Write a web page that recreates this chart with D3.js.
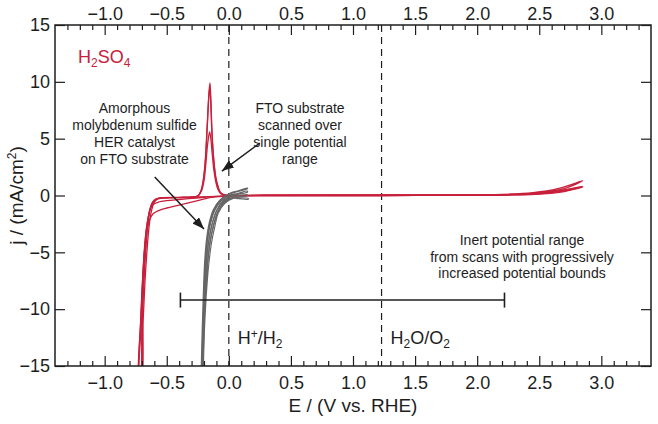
<!DOCTYPE html>
<html><head><meta charset="utf-8">
<script src="https://cdn.jsdelivr.net/npm/d3@7"></script>
<style>
body{margin:0;background:#fff;}
svg{display:block;font-family:"Liberation Sans",Arial,sans-serif;}
</style></head>
<body><svg id="c" width="658" height="424"></svg>
<script>
// ---- data ----
const xMajor = [-1.0,-0.5,0.0,0.5,1.0,1.5,2.0,2.5,3.0];
const xMinor = [-1.3,-1.2,-1.1,-0.9,-0.8,-0.7,-0.6,-0.4,-0.3,-0.2,-0.1,0.1,0.2,0.3,0.4,0.6,0.7,0.8,0.9,1.1,1.2,1.3,1.4,1.6,1.7,1.8,1.9,2.1,2.2,2.3,2.4,2.6,2.7,2.8,2.9,3.1,3.2,3.3];
const yMajor = [-15,-10,-5,0,5,10,15];
const refPotentials = [0.0, 1.23];
const inertRange = [-0.39, 2.22];
const inertLevel = -9.2;

// FTO substrate, wide potential range (red)
const red1 = [[0.05,-0.02],[-0.05,-0.08],[-0.13,-0.15],[-0.25,-0.45],[-0.4,-0.85],[-0.5,-1.1],[-0.56,-1.3],[-0.61,-1.6],[-0.64,-2.2],[-0.66,-3.2],[-0.68,-5],[-0.695,-7.5],[-0.71,-11],[-0.725,-16.5],
 [-0.715,-16.5],[-0.70,-11],[-0.685,-7],[-0.67,-4.5],[-0.655,-2.5],[-0.64,-1.4],[-0.62,-0.7],[-0.59,-0.35],[-0.55,-0.22],[-0.4,-0.18],[-0.3,-0.15],[-0.25,-0.05],[-0.225,0.4],[-0.205,1.4],[-0.19,3],[-0.175,6],[-0.16,9],[-0.152,9.9],[-0.145,8.5],[-0.135,5.5],[-0.12,3],[-0.105,1.6],[-0.09,0.9],[-0.07,0.3],[-0.04,0.08],[0.3,0.03],[1.0,0.05],[1.8,0.05],[2.2,0.1],[2.45,0.25],[2.65,0.6],[2.85,1.3],
 [2.7,0.6],[2.5,0.25],[2.3,0.1],[2.0,0.03],[1.2,0.0],[0.5,-0.01],[0.05,-0.02]];
const red2 = [[0.05,-0.02],[-0.05,-0.05],[-0.15,-0.12],[-0.26,-0.22],[-0.4,-0.35],[-0.5,-0.45],[-0.56,-0.55],[-0.61,-0.8],[-0.635,-1.3],[-0.655,-2.3],[-0.675,-4],[-0.69,-6.5],[-0.705,-10],[-0.72,-16.5],
 [-0.71,-16.5],[-0.695,-10.5],[-0.68,-6.8],[-0.665,-4.2],[-0.65,-2.4],[-0.635,-1.3],[-0.615,-0.6],[-0.585,-0.3],[-0.55,-0.2],[-0.4,-0.16],[-0.3,-0.13],[-0.25,-0.04],[-0.222,0.35],[-0.2,1.3],[-0.185,2.8],[-0.17,4.6],[-0.155,5.6],[-0.145,5.0],[-0.135,3.8],[-0.12,2.2],[-0.105,1.2],[-0.09,0.6],[-0.065,0.15],[-0.03,0.03],[0.3,0.02],[1.0,0.04],[1.8,0.05],[2.2,0.08],[2.45,0.18],[2.65,0.4],[2.85,0.8],
 [2.7,0.4],[2.5,0.15],[2.3,0.06],[2.0,0.02],[1.2,0.0],[0.5,-0.01],[0.05,-0.02]];
const red3 = [[0.05,-0.02],[-0.1,-0.08],[-0.3,-0.15],[-0.5,-0.22],[-0.57,-0.3],[-0.6,-0.5],[-0.625,-0.9],[-0.645,-1.7],[-0.665,-3],[-0.68,-5],[-0.695,-8],[-0.71,-12],[-0.72,-16.5],
 [-0.705,-16.5],[-0.69,-11],[-0.675,-7.5],[-0.66,-5],[-0.645,-3],[-0.628,-1.6],[-0.605,-0.7],[-0.58,-0.35],[-0.55,-0.22],[-0.4,-0.18],[-0.3,-0.14],[-0.25,-0.04],[-0.224,0.4],[-0.203,1.5],[-0.188,3.2],[-0.173,6.2],[-0.16,8.9],[-0.153,9.5],[-0.146,8.3],[-0.136,5.4],[-0.121,3],[-0.106,1.6],[-0.091,0.9],[-0.07,0.3],[-0.04,0.06],[0.3,0.02],[1.0,0.03],[1.8,0.04],[2.2,0.07],[2.45,0.15],[2.65,0.38],[2.85,0.75],
 [2.7,0.35],[2.5,0.12],[2.3,0.05],[2.0,0.02],[1.2,0.0],[0.5,-0.01],[0.05,-0.02]];

// Amorphous MoSx HER catalyst on FTO (gray)
const gray1 = [[-0.225,-16.5],[-0.215,-12],[-0.205,-8.5],[-0.194,-5.7],[-0.18,-3.9],[-0.159,-2.45],[-0.126,-1.27],[-0.073,-0.4],[0.008,0.19],[0.07,0.4],[0.15,0.66],
 [0.15,0.6],[0.07,0.33],[0.0,0.1],[-0.065,-0.45],[-0.115,-1.25],[-0.15,-2.45],[-0.173,-3.9],[-0.19,-5.7],[-0.202,-8.5],[-0.212,-12],[-0.222,-16.5]];
const gray2 = [[-0.22,-16.5],[-0.21,-12],[-0.2,-8.5],[-0.188,-5.7],[-0.172,-3.9],[-0.148,-2.5],[-0.113,-1.3],[-0.06,-0.45],[0.01,0.05],[0.07,0.18],[0.15,0.38],
 [0.15,0.3],[0.07,0.1],[0.015,-0.05],[-0.05,-0.5],[-0.1,-1.35],[-0.135,-2.55],[-0.162,-4],[-0.18,-5.8],[-0.195,-8.6],[-0.206,-12],[-0.217,-16.5]];
const gray3 = [[-0.215,-16.5],[-0.205,-12],[-0.193,-8.6],[-0.18,-5.8],[-0.162,-4],[-0.137,-2.6],[-0.1,-1.4],[-0.048,-0.55],[0.02,-0.1],[0.08,0.0],[0.15,0.08],
 [0.15,0.0],[0.08,-0.12],[0.025,-0.2],[-0.04,-0.6],[-0.09,-1.5],[-0.122,-2.65],[-0.15,-4.1],[-0.17,-5.9],[-0.188,-8.7],[-0.2,-12],[-0.212,-16.5]];
const gray4 = [[-0.21,-16.5],[-0.2,-12],[-0.187,-8.8],[-0.172,-6],[-0.152,-4.1],[-0.126,-2.7],[-0.093,-1.55],[-0.04,-0.65],[0.03,-0.22],[0.09,-0.2],[0.156,-0.25],
 [0.156,-0.33],[0.08,-0.28],[0.035,-0.25],[-0.032,-0.69],[-0.086,-1.57],[-0.113,-2.74],[-0.14,-4.2],[-0.163,-6.2],[-0.183,-9],[-0.197,-12],[-0.208,-16.5]];

const redTraces = [red1, red2, red3];
const grayTraces = [gray1, gray2, gray3, gray4];

// ---- layout ----
const W = 658, H = 424;
const m = {l:55, r:7, t:25, b:58};
const svg = d3.select("#c");
const x = d3.scaleLinear([-1.4, 3.4], [m.l, W - m.r]);
const y = d3.scaleLinear([-15, 15], [H - m.b, m.t]);
const RED = "#c8203c", GRAY = "#666666", INK = "#1e1e1e";

const defs = svg.append("defs");
defs.append("clipPath").attr("id","clip")
  .append("rect").attr("x",m.l).attr("y",m.t).attr("width",W-m.l-m.r).attr("height",H-m.t-m.b);
defs.append("marker").attr("id","ah").attr("markerUnits","userSpaceOnUse")
  .attr("viewBox","0 0 12 9").attr("refX",12).attr("refY",4.5)
  .attr("markerWidth",12).attr("markerHeight",9).attr("orient","auto")
  .append("path").attr("d","M0,0 L12,4.5 L0,9 Z").attr("fill",INK);

// reference dashed lines
svg.append("g").selectAll("line").data(refPotentials).join("line")
  .attr("x1",d=>x(d)).attr("x2",d=>x(d)).attr("y1",y(15)).attr("y2",y(-15))
  .attr("stroke",INK).attr("stroke-width",1.2).attr("stroke-dasharray","7,5");

// curves
const line = d3.line().x(d=>x(d[0])).y(d=>y(d[1])).curve(d3.curveCatmullRom.alpha(0.5));
const plot = svg.append("g").attr("clip-path","url(#clip)");
plot.selectAll(".red").data(redTraces).join("path").attr("class","red")
  .attr("d",line).attr("fill","none").attr("stroke",RED).attr("stroke-width",1.3);
plot.selectAll(".gray").data(grayTraces).join("path").attr("class","gray")
  .attr("d",line).attr("fill","none").attr("stroke",GRAY).attr("stroke-width",1.15);

// inert range bar
const bar = svg.append("g").attr("stroke",INK).attr("stroke-width",1.6);
bar.append("line").attr("x1",x(inertRange[0])).attr("x2",x(inertRange[1])).attr("y1",y(inertLevel)).attr("y2",y(inertLevel));
bar.selectAll(".cap").data(inertRange).join("line").attr("class","cap")
  .attr("x1",d=>x(d)).attr("x2",d=>x(d)).attr("y1",y(inertLevel)-7.5).attr("y2",y(inertLevel)+7.5);

// axes
function style(g){ g.select(".domain").remove(); g.selectAll("line").attr("stroke",INK).attr("stroke-width",1.2);
  g.selectAll("text").attr("fill",INK).style("font-size","18px"); }
svg.append("g").attr("transform",`translate(0,${y(-15)})`)
  .call(d3.axisBottom(x).tickValues(xMajor).tickSize(-10).tickPadding(10).tickFormat(d3.format(".1f"))).call(style);
svg.append("g").attr("transform",`translate(0,${y(-15)})`)
  .call(d3.axisBottom(x).tickValues(xMinor).tickSize(-5).tickFormat("")).call(style);
svg.append("g").attr("transform",`translate(0,${y(15)})`)
  .call(d3.axisTop(x).tickValues(xMajor).tickSize(-10).tickPadding(5).tickFormat(d3.format(".1f"))).call(style);
svg.append("g").attr("transform",`translate(0,${y(15)})`)
  .call(d3.axisTop(x).tickValues(xMinor).tickSize(-5).tickFormat("")).call(style);
svg.append("g").attr("transform",`translate(${x(-1.4)},0)`)
  .call(d3.axisLeft(y).tickValues(yMajor).tickSize(-10).tickPadding(5).tickFormat(d3.format("d"))).call(style);
svg.append("g").attr("transform",`translate(${x(3.4)},0)`)
  .call(d3.axisRight(y).tickValues(yMajor).tickSize(-10).tickFormat("")).call(style);
svg.append("rect").attr("x",m.l).attr("y",m.t).attr("width",W-m.l-m.r).attr("height",H-m.t-m.b)
  .attr("fill","none").attr("stroke",INK).attr("stroke-width",1.5);

// axis titles
svg.append("text").attr("x",(m.l+W-m.r)/2).attr("y",412).attr("text-anchor","middle")
  .style("font-size","19px").attr("fill",INK).text("E / (V vs. RHE)");
const yt = svg.append("text").attr("transform",`translate(23,${(m.t+H-m.b)/2}) rotate(-90)`)
  .attr("text-anchor","middle").style("font-size","19px").attr("fill",INK);
yt.append("tspan").text("j / (mA/cm");
yt.append("tspan").attr("dy",-7).style("font-size","12px").text("2");
yt.append("tspan").attr("dy",7).text(")");

// electrolyte label
const hs = svg.append("text").attr("x",78).attr("y",63).attr("fill",RED).style("font-size","18px");
hs.append("tspan").text("H");
hs.append("tspan").attr("dy",4).style("font-size","12px").text("2");
hs.append("tspan").attr("dy",-4).text("SO");
hs.append("tspan").attr("dy",4).style("font-size","12px").text("4");

// redox labels
const h1 = svg.append("text").attr("x",x(0)+9).attr("y",344).attr("fill",INK).style("font-size","18px");
h1.append("tspan").text("H");
h1.append("tspan").attr("dy",-6).style("font-size","12px").text("+");
h1.append("tspan").attr("dy",6).text("/H");
h1.append("tspan").attr("dy",4).style("font-size","12px").text("2");
const h2 = svg.append("text").attr("x",x(1.23)+9).attr("y",344).attr("fill",INK).style("font-size","18px");
h2.append("tspan").text("H");
h2.append("tspan").attr("dy",4).style("font-size","12px").text("2");
h2.append("tspan").attr("dy",-4).text("O/O");
h2.append("tspan").attr("dy",4).style("font-size","12px").text("2");

// annotation blocks
const notes = [
  {cx:134.5, y0:113, dy:17, lines:["Amorphous","molybdenum sulfide","HER catalyst","on FTO substrate"]},
  {cx:300, y0:113, dy:17, lines:["FTO substrate","scanned over","single potential","range"]},
  {cx:522, y0:245, dy:16.5, lines:["Inert potential range","from scans with progressively","increased potential bounds"]}
];
notes.forEach(n=>{
  svg.append("g").selectAll("text").data(n.lines).join("text")
    .attr("x",n.cx).attr("y",(d,i)=>n.y0+i*n.dy).attr("text-anchor","middle")
    .style("font-size","14px").attr("fill",INK).text(d=>d);
});

// arrows (data coords: from -> to)
const arrows = [
  {from:[-0.597,1.63], to:[-0.2,-2.95]},
  {from:[0.25,4.62], to:[-0.056,2.15]}
];
svg.append("g").selectAll("line").data(arrows).join("line")
  .attr("x1",d=>x(d.from[0])).attr("y1",d=>y(d.from[1]))
  .attr("x2",d=>x(d.to[0])).attr("y2",d=>y(d.to[1]))
  .attr("stroke",INK).attr("stroke-width",1.5).attr("marker-end","url(#ah)");
</script></body></html>
